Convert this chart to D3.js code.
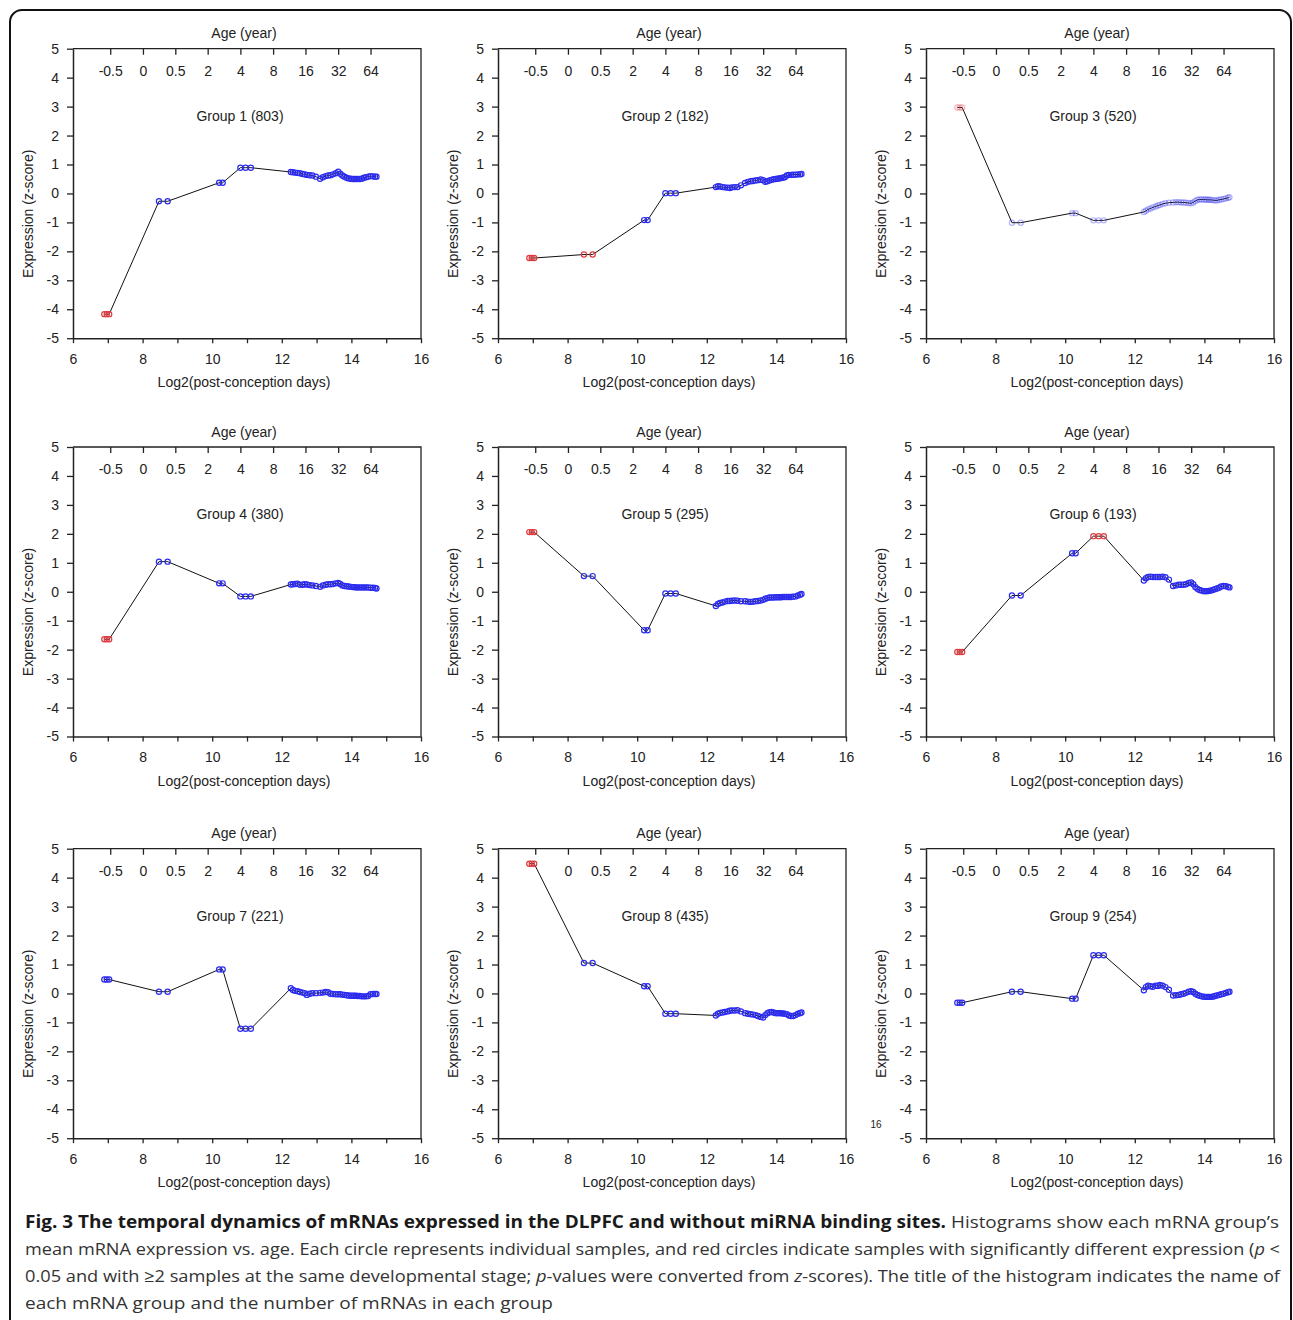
<!DOCTYPE html>
<html>
<head>
<meta charset="utf-8">
<script src="https://cdn.jsdelivr.net/npm/d3@7"></script>
<style>
  html, body { margin: 0; padding: 0; background: #fff; }
  svg { display: block; }
</style>
</head>
<body>
<svg id="chart" width="1293" height="1320"></svg>
<script>
// ---------------- DATA ----------------
// sample ages (log2 post-conception days), shared by all groups
const sampleX = [6.90, 6.97, 7.04, 8.47, 8.72, 10.20, 10.30, 10.81, 10.96, 11.11,
  12.26, 12.32, 12.38, 12.45, 12.52, 12.60, 12.66, 12.72, 12.80, 12.88,
  12.98, 13.10, 13.18, 13.26, 13.33, 13.40, 13.47, 13.55, 13.62, 13.68,
  13.74, 13.80, 13.86, 13.92, 13.98, 14.03, 14.08, 14.13, 14.18, 14.24,
  14.30, 14.36, 14.42, 14.48, 14.55, 14.62, 14.68, 14.72];

const groupNames = ["Group 1 (803)", "Group 2 (182)", "Group 3 (520)",
  "Group 4 (380)", "Group 5 (295)", "Group 6 (193)",
  "Group 7 (221)", "Group 8 (435)", "Group 9 (254)"];

const group1 = [-4.17, -4.17, -4.17, -0.27, -0.27, 0.37, 0.37, 0.89, 0.89, 0.89,
  0.74, 0.73, 0.72, 0.71, 0.70, 0.67, 0.66, 0.64, 0.63, 0.62,
  0.58, 0.51, 0.56, 0.60, 0.62, 0.63, 0.66, 0.70, 0.75, 0.68,
  0.62, 0.58, 0.54, 0.52, 0.51, 0.50, 0.50, 0.50, 0.50, 0.50,
  0.51, 0.54, 0.56, 0.58, 0.60, 0.59, 0.58, 0.58];
const group2 = [-2.23, -2.23, -2.23, -2.11, -2.11, -0.92, -0.92, 0.01, 0.01, 0.01,
  0.22, 0.25, 0.24, 0.22, 0.21, 0.20, 0.19, 0.21, 0.22, 0.22,
  0.28, 0.36, 0.40, 0.42, 0.43, 0.45, 0.46, 0.48, 0.46, 0.40,
  0.42, 0.45, 0.47, 0.49, 0.50, 0.51, 0.52, 0.53, 0.54, 0.56,
  0.62, 0.64, 0.64, 0.65, 0.65, 0.66, 0.66, 0.67];
const group3 = [2.97, 2.97, 2.97, -1.01, -1.01, -0.68, -0.68, -0.93, -0.93, -0.93,
  -0.64, -0.60, -0.55, -0.52, -0.48, -0.45, -0.42, -0.40, -0.36, -0.34,
  -0.32, -0.31, -0.30, -0.30, -0.31, -0.31, -0.32, -0.33, -0.34, -0.31,
  -0.26, -0.22, -0.21, -0.21, -0.21, -0.21, -0.22, -0.22, -0.22, -0.23,
  -0.24, -0.24, -0.22, -0.21, -0.19, -0.17, -0.15, -0.13];
const group4 = [-1.64, -1.64, -1.64, 1.04, 1.04, 0.29, 0.29, -0.16, -0.16, -0.16,
  0.25, 0.26, 0.27, 0.28, 0.24, 0.24, 0.26, 0.25, 0.23, 0.22,
  0.20, 0.17, 0.22, 0.24, 0.26, 0.26, 0.27, 0.29, 0.30, 0.27,
  0.22, 0.20, 0.19, 0.18, 0.17, 0.16, 0.16, 0.15, 0.15, 0.15,
  0.15, 0.15, 0.15, 0.15, 0.14, 0.14, 0.13, 0.11];
const group5 = [2.06, 2.06, 2.06, 0.54, 0.54, -1.33, -1.33, -0.06, -0.06, -0.06,
  -0.49, -0.42, -0.39, -0.37, -0.34, -0.32, -0.32, -0.31, -0.30, -0.31,
  -0.33, -0.33, -0.34, -0.35, -0.34, -0.33, -0.32, -0.30, -0.28, -0.24,
  -0.22, -0.20, -0.20, -0.20, -0.19, -0.19, -0.19, -0.19, -0.18, -0.18,
  -0.18, -0.18, -0.18, -0.17, -0.16, -0.13, -0.10, -0.08];
const group6 = [-2.08, -2.08, -2.08, -0.13, -0.13, 1.33, 1.33, 1.92, 1.92, 1.92,
  0.39, 0.47, 0.51, 0.52, 0.51, 0.51, 0.51, 0.51, 0.52, 0.50,
  0.42, 0.20, 0.22, 0.24, 0.24, 0.24, 0.26, 0.30, 0.32, 0.26,
  0.16, 0.10, 0.06, 0.04, 0.02, 0.02, 0.02, 0.03, 0.04, 0.06,
  0.09, 0.11, 0.14, 0.18, 0.20, 0.19, 0.17, 0.15];
const group7 = [0.48, 0.48, 0.48, 0.06, 0.06, 0.83, 0.83, -1.22, -1.22, -1.22,
  0.18, 0.12, 0.09, 0.08, 0.05, 0.03, 0.01, -0.05, -0.01, 0.01,
  0.01, 0.02, 0.03, 0.05, 0.04, -0.01, -0.02, -0.03, -0.03, -0.03,
  -0.04, -0.05, -0.06, -0.07, -0.08, -0.08, -0.08, -0.08, -0.09, -0.09,
  -0.10, -0.10, -0.10, -0.09, -0.03, -0.02, -0.02, -0.02];
const group8 = [4.48, 4.48, 4.48, 1.05, 1.05, 0.25, 0.25, -0.70, -0.70, -0.70,
  -0.76, -0.70, -0.67, -0.66, -0.64, -0.62, -0.60, -0.59, -0.59, -0.58,
  -0.62, -0.68, -0.70, -0.72, -0.73, -0.75, -0.78, -0.81, -0.83, -0.75,
  -0.68, -0.65, -0.64, -0.66, -0.68, -0.68, -0.68, -0.68, -0.69, -0.70,
  -0.72, -0.76, -0.78, -0.78, -0.75, -0.70, -0.68, -0.66];
const group9 = [-0.32, -0.32, -0.32, 0.06, 0.06, -0.18, -0.18, 1.32, 1.32, 1.32,
  0.11, 0.22, 0.27, 0.25, 0.23, 0.27, 0.26, 0.29, 0.27, 0.22,
  0.13, -0.07, -0.06, -0.05, -0.03, -0.01, 0.02, 0.06, 0.08, 0.05,
  -0.01, -0.05, -0.08, -0.10, -0.11, -0.12, -0.12, -0.12, -0.12, -0.11,
  -0.09, -0.07, -0.05, -0.03, -0.01, 0.02, 0.04, 0.06];

// indices of samples drawn as red (significant) circles
const redIdx1 = [0, 1, 2];
const redIdx2 = [0, 1, 2, 3, 4];
const redIdx3 = [0, 1, 2];
const redIdx4 = [0, 1, 2];
const redIdx5 = [0, 1, 2];
const redIdx6 = [0, 1, 2, 7, 8, 9];
const redIdx7 = [];
const redIdx8 = [0, 1, 2];
const redIdx9 = [];

// top (age) axis
const ageLabels = ["-0.5", "0", "0.5", "2", "4", "8", "16", "32", "64"];
const agePos = [7.07, 8.01, 8.94, 9.87, 10.81, 11.75, 12.68, 13.62, 14.55];

const xTicks = [6, 7, 8, 9, 10, 11, 12, 13, 14, 15, 16];
const yTicks = [-5, -4, -3, -2, -1, 0, 1, 2, 3, 4, 5];

const captionBold = "Fig. 3 The temporal dynamics of mRNAs expressed in the DLPFC and without miRNA binding sites.";

// ---------------- DRAW ----------------
const groupsY = [group1, group2, group3, group4, group5, group6, group7, group8, group9];
const groupsRed = [redIdx1, redIdx2, redIdx3, redIdx4, redIdx5, redIdx6, redIdx7, redIdx8, redIdx9];

const svg = d3.select("#chart");
const FONT = "'Liberation Sans', Arial, sans-serif";

// outer frame
svg.append("rect")
  .attr("x", 10).attr("y", 10).attr("width", 1281).attr("height", 1340)
  .attr("rx", 12).attr("fill", "none").attr("stroke", "#111").attr("stroke-width", 2);

const colLeft = [73, 498, 926];
const rowTop = [48.7, 447, 848.7];
const W = 348, H = 289.5;

const BLUE = "#2b2bf0", RED = "#e0393e";

groupsY.forEach((vals, gi) => {
  const L = colLeft[gi % 3], T = rowTop[Math.floor(gi / 3)];
  const x = d3.scaleLinear().domain([6, 16]).range([L, L + W]);
  const y = d3.scaleLinear().domain([-5, 5]).range([T + H, T]);
  const g = svg.append("g").attr("font-family", FONT);

  // box (top & right)
  g.append("path")
    .attr("d", `M${L},${T}H${L + W}V${T + H}`)
    .attr("fill", "none").attr("stroke", "#222").attr("stroke-width", 1.3);

  // left axis
  const ya = g.append("g").attr("transform", `translate(${L},0)`)
    .call(d3.axisLeft(y).tickValues(yTicks).tickSize(6).tickSizeOuter(0).tickPadding(8)
      .tickFormat(d => String(d)));
  // bottom axis
  const xa = g.append("g").attr("transform", `translate(0,${T + H})`)
    .call(d3.axisBottom(x).tickValues(xTicks).tickSize(5).tickSizeOuter(0).tickPadding(11)
      .tickFormat(d => d % 2 === 0 ? String(d) : ""));
  // top (age) axis: ticks pointing inward, labels below
  const ta = g.append("g").attr("transform", `translate(0,${T})`)
    .call(d3.axisBottom(x).tickValues(agePos).tickSize(6).tickSizeOuter(0).tickPadding(11)
      .tickFormat((d, i) => (gi === 7 && i === 0) ? "" : ageLabels[i]));
  ta.select(".domain").remove();

  [ya, xa, ta].forEach(a => {
    a.selectAll(".domain").attr("stroke", "#222").attr("stroke-width", 1.5);
    a.selectAll(".tick line").attr("stroke", "#222").attr("stroke-width", 1.3);
    a.selectAll("text").attr("font-size", 14).attr("fill", "#222").attr("font-family", FONT);
  });

  // labels
  const cx = L + 171;
  g.append("text").attr("x", cx).attr("y", T - 10.5).attr("text-anchor", "middle")
    .attr("font-size", 14).attr("fill", "#222").text("Age (year)");
  g.append("text").attr("x", L + 167).attr("y", T + 72).attr("text-anchor", "middle")
    .attr("font-size", 14).attr("fill", "#222").text(groupNames[gi]);
  g.append("text").attr("x", cx).attr("y", T + 338.5).attr("text-anchor", "middle")
    .attr("font-size", 14).attr("fill", "#222").text("Log2(post-conception days)");
  g.append("text").attr("transform", `translate(${L - 40},${T + 165}) rotate(-90)`)
    .attr("text-anchor", "middle").attr("font-size", 14).attr("fill", "#222")
    .text("Expression (z-score)");

  // line + circles
  const pts = vals.map((v, i) => ({ x: sampleX[i], y: v, red: groupsRed[gi].includes(i) }));
  g.append("path").datum(pts)
    .attr("d", d3.line().x(d => x(d.x)).y(d => y(d.y)))
    .attr("fill", "none").attr("stroke", "#111").attr("stroke-width", 1);
  const faded = gi === 2;
  g.append("g").selectAll("circle").data(pts).join("circle")
    .attr("cx", d => x(d.x)).attr("cy", d => y(d.y)).attr("r", 2.6)
    .attr("fill", "none")
    .attr("stroke", d => d.red ? RED : BLUE)
    .attr("stroke-width", 1.2)
    .attr("stroke-opacity", faded ? 0.35 : 1);
});

// stray label in panel 9
svg.append("text").attr("x", 876).attr("y", 1128).attr("text-anchor", "middle")
  .attr("font-family", FONT).attr("font-size", 10).attr("fill", "#222").text("16");

// caption
const CF = "'Open Sans', 'Noto Sans', sans-serif";
const cap = svg.append("g").attr("font-family", CF).attr("font-size", 17);
cap.append("text").attr("x", 25).attr("y", 1228).attr("font-weight", "bold").attr("fill", "#1a1a1a")
  .attr("textLength", 921).attr("lengthAdjust", "spacingAndGlyphs").text(captionBold);
cap.append("text").attr("x", 951).attr("y", 1228).attr("fill", "#333")
  .attr("textLength", 328).attr("lengthAdjust", "spacingAndGlyphs")
  .text("Histograms show each mRNA group\u2019s");

const l2 = cap.append("text").attr("x", 25).attr("y", 1255).attr("fill", "#333")
  .attr("textLength", 1255).attr("lengthAdjust", "spacingAndGlyphs");
l2.append("tspan").text("mean mRNA expression vs. age. Each circle represents individual samples, and red circles indicate samples with significantly different expression (");
l2.append("tspan").attr("font-style", "italic").text("p");
l2.append("tspan").text(" <");

const l3 = cap.append("text").attr("x", 25).attr("y", 1282).attr("fill", "#333")
  .attr("textLength", 1255).attr("lengthAdjust", "spacingAndGlyphs");
l3.append("tspan").text("0.05 and with \u22652 samples at the same developmental stage; ");
l3.append("tspan").attr("font-style", "italic").text("p");
l3.append("tspan").text("-values were converted from ");
l3.append("tspan").attr("font-style", "italic").text("z");
l3.append("tspan").text("-scores). The title of the histogram indicates the name of");

cap.append("text").attr("x", 25).attr("y", 1309).attr("fill", "#333")
  .attr("textLength", 528).attr("lengthAdjust", "spacingAndGlyphs")
  .text("each mRNA group and the number of mRNAs in each group");
</script>
</body>
</html>
